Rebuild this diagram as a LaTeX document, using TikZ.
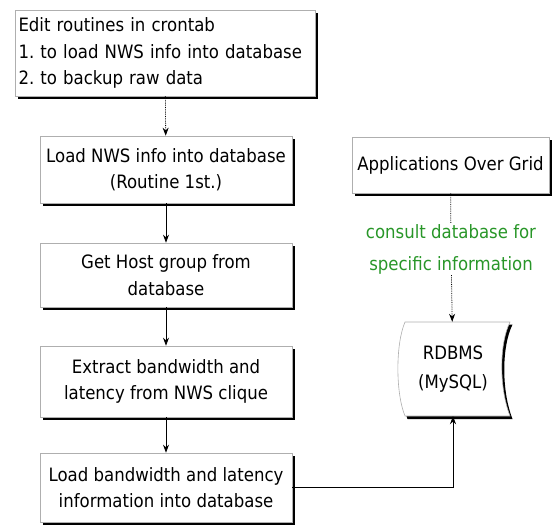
\documentclass[tikz,border=0pt]{standalone}
\usepackage{fontspec}
\setmainfont{DejaVu Sans}[FakeStretch=0.9]
\usetikzlibrary{positioning, arrows.meta, shadows}
\definecolor{notecolor}{RGB}{40,150,40}
\definecolor{edgecolor}{RGB}{175,175,175}

\begin{document}
\frenchspacing
\begin{tikzpicture}[x=1pt, y=-1pt, font=\fontsize{18.4}{26.5}\selectfont,
    box/.style={draw=edgecolor, line width=0.6pt, fill=white, align=center,
        minimum width=252pt, minimum height=67pt, inner sep=2pt,
        drop shadow={shadow xshift=3pt, shadow yshift=-3pt, fill=black, opacity=1}},
    flow/.style={-{Stealth[length=8pt, width=6pt]}, line width=0.8pt},
    dotflow/.style={flow, densely dotted}]
    \useasboundingbox (0,0) rectangle (553,526);

    % Etapes de gauche
    \node[box, minimum width=300pt, minimum height=86pt, align=left, text width=293pt] (edit) at (165,53)
        {Edit routines in crontab\\1. to load NWS info into database\\2. to backup raw data};
    \node[box] (loadnws) at (166,169.5) {Load NWS info into database\\(Routine 1st.)};
    \node[box, minimum height=64pt] (host) at (166,275) {Get Host group from\\database};
    \node[box, minimum height=71pt] (extract) at (166,381.5) {Extract bandwidth and\\latency from NWS clique};
    \node[box, minimum height=69pt] (loadbw) at (166,487.5) {Load bandwidth and latency\\information into database};

    % Partie de droite
    \node[box, minimum width=197pt, minimum height=56pt] (apps) at (450.5,165) {Applications Over Grid};
    \node[text=notecolor, align=center, inner sep=1pt, font=\fontsize{18.4}{32}\selectfont] (consult) at (451,249)
        {consult database for\\specific information};
    \node[minimum width=106pt, minimum height=94pt] (db) at (453,369) {};
    \begin{scope}[shift={(db.center)}]
        \fill[black] (-45.5,-44.5) -- (59.5,-44.5) .. controls (48.5,-22) and (48.5,22) .. (59.5,50)
            -- (-45.5,50) .. controls (-55,27) and (-55,-22) .. cycle;
        \filldraw[fill=white, draw=edgecolor, line width=0.6pt] (-48,-47) -- (57,-47) .. controls (46,-25) and (46,19) .. (57,47)
            -- (-48,47) .. controls (-57.5,24) and (-57.5,-25) .. cycle;
    \end{scope}
    \node[align=center, font=\fontsize{18.4}{29}\selectfont] at (db.center) {RDBMS\\(MySQL)};

    % Connecteurs
    \draw[dotflow] (edit) -- (loadnws);
    \draw[flow] (loadnws) -- (host);
    \draw[flow] (host) -- (extract);
    \draw[flow] (extract) -- (loadbw);
    \draw[line width=0.8pt, densely dotted] (apps) -- (consult);
    \draw[dotflow] (consult) -- (db);
    \draw[flow] (loadbw.east) -| (db.south);
\end{tikzpicture}
\end{document}
